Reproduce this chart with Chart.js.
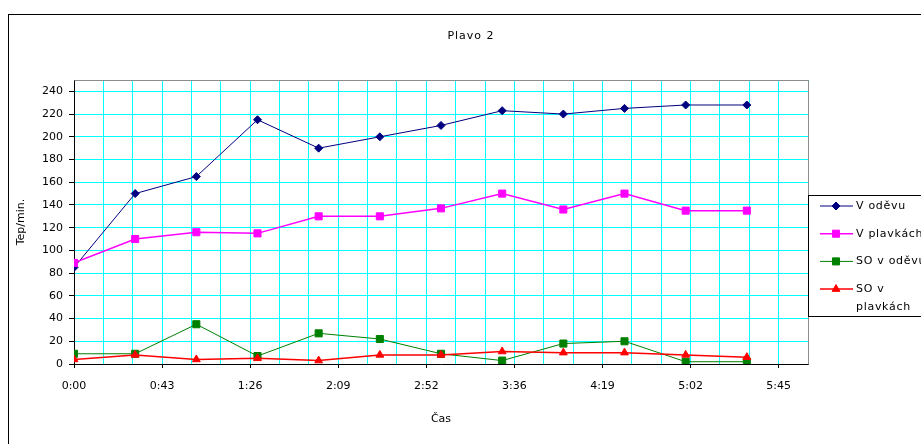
<!DOCTYPE html>
<html>
<head>
<meta charset="utf-8">
<script src="https://cdn.jsdelivr.net/npm/chart.js@4/dist/chart.umd.min.js"></script>
<style>
  html, body { margin: 0; padding: 0; background: #fff; }
  canvas { display: block; }
</style>
</head>
<body>
<canvas id="chart" width="921" height="444"></canvas>
<script>
// Heart rate during swimming, measured every half hour
const chartTitle = 'Plavo 2';
const xTitle = 'Čas';
const yTitle = 'Tep/min.';

const times = ['0:00', '0:30', '1:00', '1:30', '2:00', '2:30', '3:00', '3:30', '4:00', '4:30', '5:00', '5:30'];
const seriesNames = ['V oděvu', 'V plavkách', 'SO v oděvu', 'SO v plavkách'];

const vOdevu     = [85, 150, 165, 215, 190, 200, 210, 223, 220, 225, 228, 228];
const vPlavkach  = [89, 110, 116, 115, 130, 130, 137, 150, 136, 150, 135, 135];
const soOdevu    = [9, 9, 35, 7, 27, 22, 9, 3, 18, 20, 2, 2];
const soPlavkach = [4, 8, 4, 5, 3, 8, 8, 11, 10, 10, 8, 6];

// y ticks every 20, the axis itself runs to 250
const yTicks = [0, 20, 40, 60, 80, 100, 120, 140, 160, 180, 200, 220, 240];
const yMax = 250;
// time axis in days (spreadsheet style): grid every 0.01 day, labels every 0.03 day
const xMax = 0.25;
const xGridStep = 0.01;
const xLabelEvery = 3;

const toDays = t => { const [h, m] = t.split(':').map(Number); return (h * 60 + m) / 1440; };
const fmtTime = d => {
  const mins = Math.floor(d * 1440 + 1e-6);
  return Math.floor(mins / 60) + ':' + String(mins % 60).padStart(2, '0');
};
const toPoints = vals => vals.map((v, i) => ({ x: toDays(times[i]), y: v }));

const styles = [
  { color: '#000080', pointStyle: 'rectRot',  radius: 4,   width: 1 },
  { color: '#FF00FF', pointStyle: 'rect',     radius: 5,   width: 1.5 },
  { color: '#008000', pointStyle: 'rect',     radius: 5,   width: 1 },
  { color: '#FF0000', pointStyle: 'triangle', radius: 4.5, width: 1.5 }
];
const seriesValues = [vOdevu, vPlavkach, soOdevu, soPlavkach];

const FONT = 'DejaVu Sans';
Chart.defaults.font.family = FONT;
Chart.defaults.font.size = 11;
Chart.defaults.color = '#000';
Chart.defaults.borderColor = '#00FFFF';

function drawMarker(ctx, style, x, y) {
  const r = style.radius;
  ctx.beginPath();
  if (style.pointStyle === 'rectRot') {
    ctx.moveTo(x - r, y); ctx.lineTo(x, y - r); ctx.lineTo(x + r, y); ctx.lineTo(x, y + r);
  } else if (style.pointStyle === 'rect') {
    const s = r * Math.SQRT1_2;
    ctx.rect(x - s, y - s, 2 * s, 2 * s);
  } else {
    ctx.moveTo(x, y - r);
    ctx.lineTo(x + 0.866 * r, y + 0.5 * r);
    ctx.lineTo(x - 0.866 * r, y + 0.5 * r);
  }
  ctx.closePath();
  ctx.fillStyle = style.color;
  ctx.strokeStyle = style.color;
  ctx.lineWidth = 1;
  ctx.fill();
  ctx.stroke();
}

// outer frame, title, plot border and the boxed legend at the right
const decorations = {
  id: 'decorations',
  beforeDraw(chart) {
    const ctx = chart.ctx;
    ctx.save();
    ctx.fillStyle = '#fff';
    ctx.fillRect(0, 0, chart.width, chart.height);
    ctx.strokeStyle = '#000';
    ctx.lineWidth = 1;
    ctx.strokeRect(8.5, 14.5, chart.width + 20, chart.height + 20);
    ctx.restore();
  },
  afterDraw(chart) {
    const ctx = chart.ctx;
    const a = chart.chartArea;
    ctx.save();

    // plot area top and right edges
    ctx.strokeStyle = '#8c8c8c';
    ctx.lineWidth = 1;
    ctx.beginPath();
    ctx.moveTo(Math.round(a.left) + 0.5, Math.round(a.top) + 0.5);
    ctx.lineTo(Math.round(a.right) + 0.5, Math.round(a.top) + 0.5);
    ctx.lineTo(Math.round(a.right) + 0.5, Math.round(a.bottom) + 0.5);
    ctx.stroke();

    // chart title
    ctx.fillStyle = '#000';
    ctx.font = '11px "' + FONT + '"';
    ctx.textAlign = 'center';
    ctx.textBaseline = 'middle';
    ctx.letterSpacing = '1px';
    ctx.fillText(chartTitle, 471, 36);

    // legend box
    const bx = 808.5, by = 195.5, bh = 121;
    ctx.fillStyle = '#fff';
    ctx.fillRect(bx, by, 200, bh);
    ctx.strokeStyle = '#000';
    ctx.strokeRect(bx, by, 200, bh);

    ctx.letterSpacing = '0.7px';
    ctx.textAlign = 'left';
    const rowStep = 27.7;
    seriesNames.forEach((name, i) => {
      const st = styles[i];
      const y = 206 + i * rowStep;
      ctx.strokeStyle = st.color;
      ctx.lineWidth = st.width;
      ctx.beginPath();
      ctx.moveTo(820, y);
      ctx.lineTo(853, y);
      ctx.stroke();
      drawMarker(ctx, st, 836, y);
      ctx.fillStyle = '#000';
      // wrap long names onto two lines
      if (ctx.measureText(name).width > 75) {
        const cut = name.lastIndexOf(' ');
        ctx.fillText(name.slice(0, cut), 856, y);
        ctx.fillText(name.slice(cut + 1), 856, y + 17.7);
      } else {
        ctx.fillText(name, 856, y);
      }
    });
    ctx.restore();
  }
};

const datasets = seriesNames.map((name, i) => ({
  label: name,
  data: toPoints(seriesValues[i]),
  borderColor: styles[i].color,
  backgroundColor: styles[i].color,
  borderWidth: styles[i].width,
  pointStyle: styles[i].pointStyle,
  pointRadius: styles[i].radius,
  pointBorderWidth: 1,
  pointBackgroundColor: styles[i].color,
  pointBorderColor: styles[i].color,
  tension: 0,
  order: 3 - i
}));

const xGridValues = Array.from({ length: Math.round(xMax / xGridStep) + 1 }, (_, k) => +(k * xGridStep).toFixed(4));

new Chart(document.getElementById('chart'), {
  type: 'line',
  data: { datasets },
  plugins: [decorations],
  options: {
    responsive: false,
    animation: false,
    devicePixelRatio: 1,
    events: [],
    layout: { padding: { top: 80, right: 113, left: 0, bottom: 0 } },
    plugins: {
      legend: { display: false },
      title: { display: false },
      tooltip: { enabled: false }
    },
    scales: {
      x: {
        type: 'linear',
        position: 'bottom',
        min: 0,
        max: xMax,
        afterBuildTicks: s => { s.ticks = xGridValues.map(v => ({ value: v })); },
        afterFit: s => { s.height = 80; },
        border: { color: '#000', width: 1 },
        grid: {
          color: '#00FFFF',
          lineWidth: 1,
          tickLength: 4,
          tickColor: c => (c.index % xLabelEvery === 0) ? '#000' : 'rgba(0,0,0,0)'
        },
        ticks: {
          autoSkip: false,
          maxRotation: 0,
          padding: 12,
          callback: (v, i) => i % xLabelEvery === 0 ? fmtTime(v) : ''
        },
        title: { display: true, text: xTitle, padding: { top: 0, bottom: 18 } }
      },
      y: {
        min: 0,
        max: yMax,
        afterBuildTicks: s => { s.ticks = yTicks.map(v => ({ value: v })).concat([{ value: yMax }]); },
        afterFit: s => { s.width = 74; },
        border: { color: '#000', width: 1 },
        grid: {
          color: '#00FFFF',
          lineWidth: 1,
          tickLength: 5,
          tickColor: c => (c.tick && c.tick.value < yMax) ? '#000' : 'rgba(0,0,0,0)'
        },
        ticks: {
          padding: 6,
          callback: v => v >= yMax ? '' : v
        },
        title: { display: true, text: yTitle, padding: { top: 15, bottom: 0 } }
      }
    }
  }
});
</script>
</body>
</html>
